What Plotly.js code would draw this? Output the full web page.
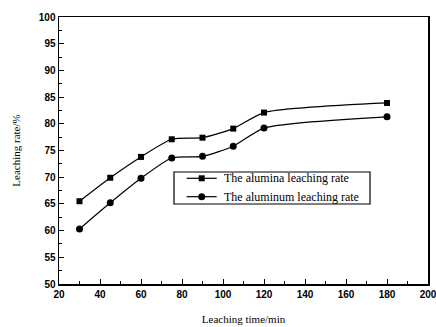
<!DOCTYPE html>
<html>
<head>
<meta charset="utf-8">
<script src="https://cdn.plot.ly/plotly-3.0.1.min.js"></script>
<style>html,body{margin:0;padding:0;background:#fff;}#chart{width:436px;height:327px;}</style>
</head>
<body>
<div id="chart"></div>
<script>
var times = [30, 45, 60, 75, 90, 105, 120, 180];
var aluminaRate = [65.5, 69.9, 73.8, 77.1, 77.4, 79.1, 82.1, 83.9];
var aluminumRate = [60.3, 65.2, 69.8, 73.6, 73.9, 75.8, 79.2, 81.3];
var seriesNames = ["The alumina leaching rate", "The aluminum leaching rate"];

var traces = [
  {x: times, y: aluminaRate, name: seriesNames[0], type: 'scatter', mode: 'lines+markers',
   line: {color: '#000', width: 1.2, shape: 'spline', smoothing: 0.6},
   marker: {symbol: 'square', size: 6, color: '#000'}},
  {x: times, y: aluminumRate, name: seriesNames[1], type: 'scatter', mode: 'lines+markers',
   line: {color: '#000', width: 1.2, shape: 'spline', smoothing: 0.6},
   marker: {symbol: 'circle', size: 7, color: '#000'}}
];

var tickFont = {family: 'Liberation Sans, Arial, sans-serif', size: 10, color: '#000', weight: 'bold'};
var titleFont = {family: 'Liberation Serif, Times New Roman, serif', size: 11, color: '#000'};
var legendFont = {family: 'Liberation Serif, Times New Roman, serif', size: 12, color: '#000'};

// Custom compact legend (paper coordinates)
var lg = {x0: 0.3117, x1: 0.8428, y0: 0.2996, y1: 0.4195, rows: [0.3959, 0.327],
          lineX0: 0.346, lineX1: 0.4274, markX: 0.3867, textX: 0.441};
var shapes = [
  {type: 'rect', xref: 'paper', yref: 'paper', x0: lg.x0, x1: lg.x1, y0: lg.y0, y1: lg.y1,
   line: {color: '#000', width: 1.2}, fillcolor: '#fff', layer: 'above'}
];
var annotations = [];
var symbols = ['rect', 'circle'];
var halfSizes = [3, 3.5];
for (var i = 0; i < 2; i++) {
  var yy = lg.rows[i];
  shapes.push({type: 'line', xref: 'paper', yref: 'paper', x0: lg.lineX0, x1: lg.lineX1, y0: yy, y1: yy,
    line: {color: '#000', width: 1.2}, layer: 'above'});
  shapes.push({type: symbols[i], xref: 'paper', yref: 'paper', xsizemode: 'pixel', ysizemode: 'pixel',
    xanchor: lg.markX, yanchor: yy, x0: -halfSizes[i], x1: halfSizes[i], y0: -halfSizes[i], y1: halfSizes[i],
    fillcolor: '#000', line: {color: '#000', width: 0}, layer: 'above'});
  annotations.push({xref: 'paper', yref: 'paper', x: lg.textX, y: yy, xanchor: 'left', yanchor: 'middle',
    text: seriesNames[i], showarrow: false, font: legendFont});
}

var layout = {
  width: 436, height: 327,
  margin: {l: 59, r: 8, t: 17, b: 43},
  paper_bgcolor: '#fff', plot_bgcolor: '#fff',
  showlegend: false,
  shapes: shapes,
  annotations: annotations,
  xaxis: {range: [20, 200], dtick: 20, tick0: 20, ticks: 'inside', ticklen: 5, tickcolor: '#000',
    showline: true, linecolor: '#000', linewidth: 1.5, mirror: true, showgrid: false, zeroline: false,
    tickfont: tickFont, ticklabeloverflow: 'allow',
    minor: {dtick: 10, ticks: 'inside', ticklen: 3, tickcolor: '#000', showgrid: false},
    title: {text: 'Leaching time/min', font: titleFont, standoff: 17}},
  yaxis: {range: [50, 100], dtick: 5, tick0: 50, ticks: 'inside', ticklen: 5, tickcolor: '#000',
    showline: true, linecolor: '#000', linewidth: 1.5, mirror: true, showgrid: false, zeroline: false,
    tickfont: tickFont, ticklabeloverflow: 'allow',
    minor: {dtick: 2.5, ticks: 'inside', ticklen: 3, tickcolor: '#000', showgrid: false},
    title: {text: 'Leaching rate/%', font: titleFont, standoff: 16}}
};

Plotly.newPlot('chart', traces, layout, {displayModeBar: false, staticPlot: true});
</script>
</body>
</html>
